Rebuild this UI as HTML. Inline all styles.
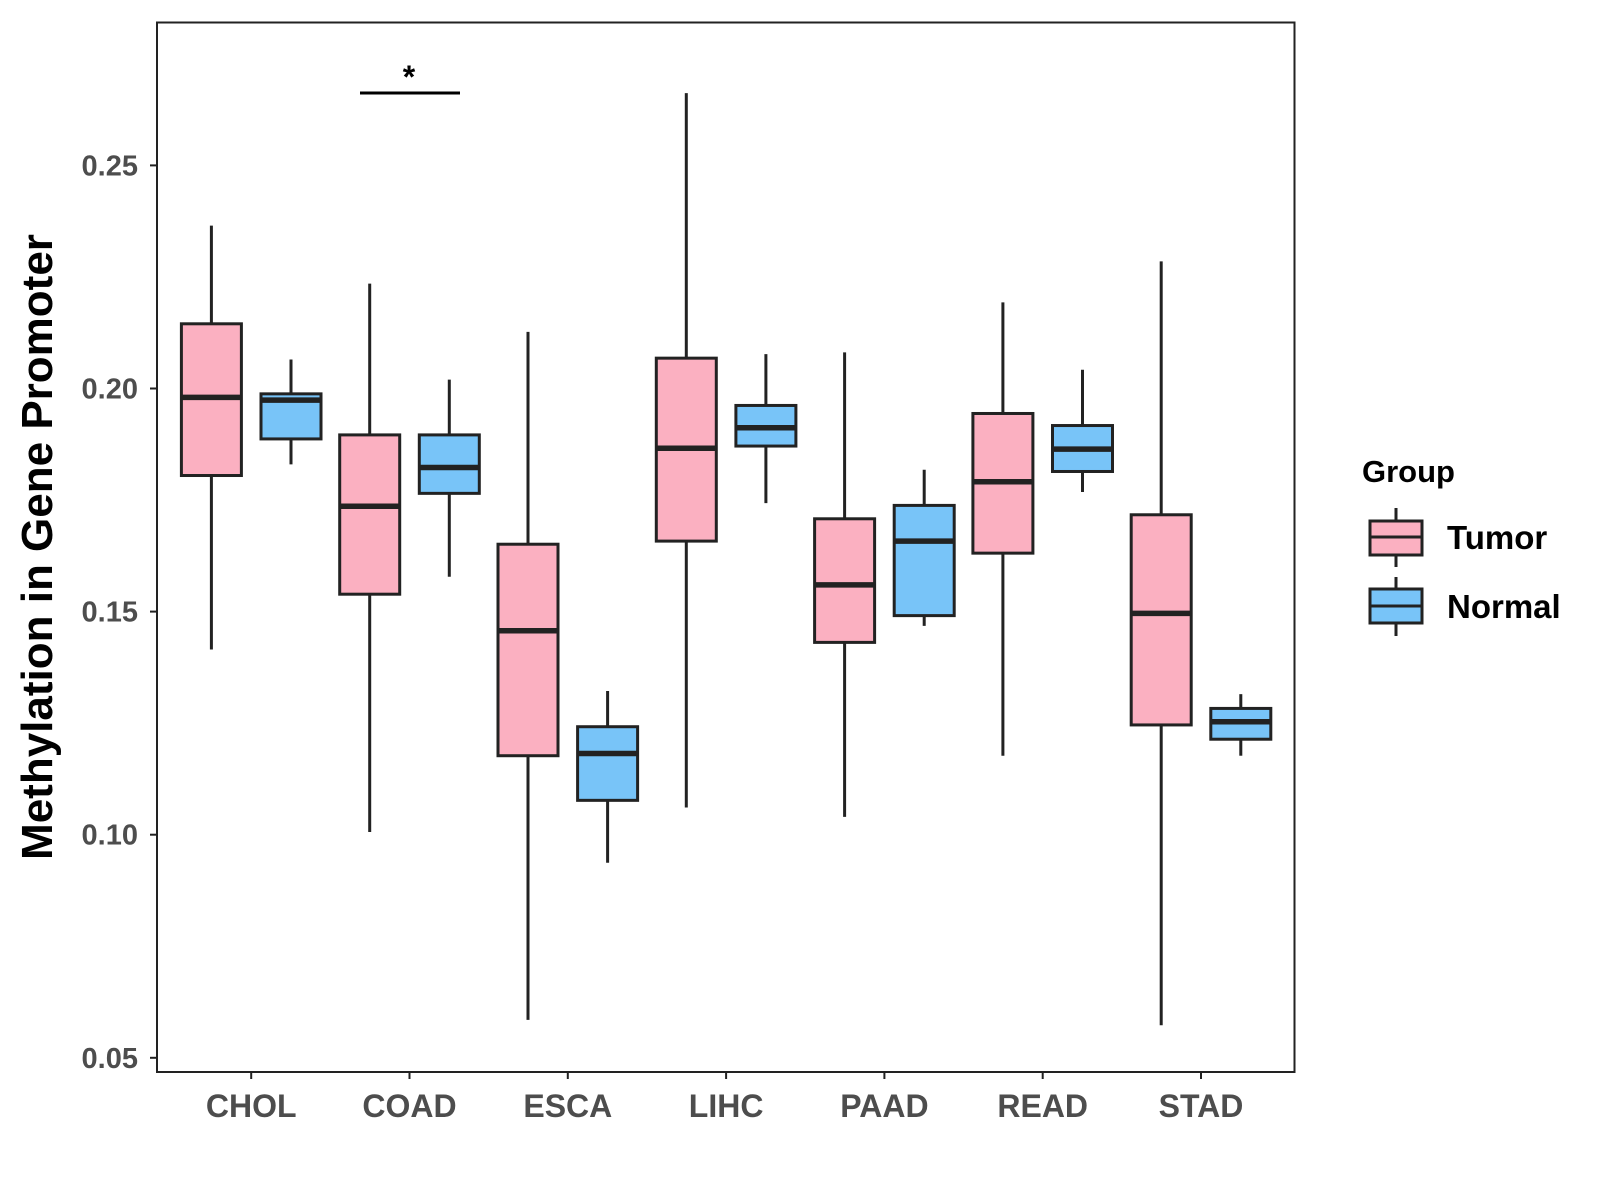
<!DOCTYPE html>
<html><head><meta charset="utf-8"><style>
html,body{margin:0;padding:0;background:#fff;}
svg{display:block;font-family:"Liberation Sans",Arial,sans-serif;}
</style></head><body>
<svg id="chart" width="1600" height="1200" viewBox="0 0 1600 1200">
<rect x="157" y="22.5" width="1137.5" height="1049.5" fill="#fff" stroke="#222" stroke-width="2"/>
<g id="marks"></g>
<g id="axes"></g>
<text x="52" y="547" transform="rotate(-90 52 547)" text-anchor="middle" font-size="44" font-weight="bold" fill="#000">Methylation in Gene Promoter</text>
<g>
<line x1="360" y1="93" x2="460" y2="93" stroke="#000" stroke-width="3"/>
<text x="409" y="88" text-anchor="middle" font-size="32" font-weight="bold">*</text>
</g>
<g>
<text x="1362" y="482" font-size="31" font-weight="bold">Group</text>
<g>
<line x1="1396" y1="508" x2="1396" y2="567" stroke="#222" stroke-width="3"/>
<rect x="1370" y="521" width="52" height="34" fill="#FBB0C1" stroke="#222" stroke-width="3"/>
<line x1="1370" y1="537" x2="1422" y2="537" stroke="#222" stroke-width="3"/>
<text x="1447" y="549" font-size="33" font-weight="bold">Tumor</text>
</g>
<g>
<line x1="1396" y1="577" x2="1396" y2="636" stroke="#222" stroke-width="3"/>
<rect x="1370" y="589" width="52" height="34" fill="#78C4F8" stroke="#222" stroke-width="3"/>
<line x1="1370" y1="606" x2="1422" y2="606" stroke="#222" stroke-width="3"/>
<text x="1447" y="618" font-size="33" font-weight="bold">Normal</text>
</g>
</g>
</svg>
<script>
const categories = ["CHOL","COAD","ESCA","LIHC","PAAD","READ","STAD"];
const groups = ["Tumor","Normal"];
const yTicks = [0.05,0.10,0.15,0.20,0.25];
const yTickLabels = ["0.05","0.10","0.15","0.20","0.25"];
// [low, q1, median, q3, high]
const tumorStats = [
 [0.1415,0.1805,0.198,0.2145,0.2365],
 [0.1006,0.1539,0.1736,0.1896,0.2235],
 [0.0585,0.1177,0.1457,0.1651,0.2127],
 [0.1061,0.1658,0.1866,0.2068,0.2662],
 [0.104,0.1431,0.156,0.1708,0.2081],
 [0.1177,0.1631,0.1791,0.1944,0.2193],
 [0.0573,0.1246,0.1496,0.1717,0.2285]
];
const normalStats = [
 [0.183,0.1887,0.1974,0.1988,0.2065],
 [0.1578,0.1765,0.1823,0.1896,0.202],
 [0.0937,0.1077,0.1182,0.1242,0.1322],
 [0.1743,0.1871,0.1912,0.1962,0.2077],
 [0.1468,0.1491,0.1658,0.1738,0.1818],
 [0.1768,0.1814,0.1864,0.1917,0.2042],
 [0.1177,0.1214,0.1253,0.1283,0.1315]
];
const NS="http://www.w3.org/2000/svg";
const y = v => 165.4 + (0.25 - v) * 4462;
const x = i => 251.2 + i * 158.3;
const colors = ["#FBB0C1","#78C4F8"];
const marks = document.getElementById('marks');
const axes = document.getElementById('axes');
function mk(tag, attrs, parent){const e=document.createElementNS(NS,tag);for(const k in attrs)e.setAttribute(k,attrs[k]);parent.appendChild(e);return e;}
[tumorStats, normalStats].forEach((series, g) => {
  series.forEach((s, i) => {
    const cx = x(i) + (g === 0 ? -39.8 : 39.8);
    const grp = mk('g', {}, marks);
    
    
    mk('line', {x1:cx, x2:cx, y1:y(s[4]), y2:y(s[0]), stroke:'#222', 'stroke-width':3}, grp);
    mk('rect', {x:cx-30, y:y(s[3]), width:60, height:y(s[1])-y(s[3]), fill:colors[g], stroke:'#222', 'stroke-width':3}, grp);
    mk('line', {x1:cx-30, x2:cx+30, y1:y(s[2]), y2:y(s[2]), stroke:'#222', 'stroke-width':5.5}, grp);
  });
});
yTicks.forEach((t, i) => {
  const l = mk('line', {x1:150, x2:157, y1:y(t), y2:y(t), stroke:'#222', 'stroke-width':2}, axes);
  
  
  const tx = mk('text', {x:138, y:y(t)+10, 'text-anchor':'end', 'font-size':29, 'font-weight':'bold', fill:'#4d4d4d'}, axes);
  tx.textContent = yTickLabels[i];
  
  
});
categories.forEach((c, i) => {
  const l = mk('line', {x1:x(i), x2:x(i), y1:1072, y2:1079, stroke:'#222', 'stroke-width':2}, axes);
  
  
  const tx = mk('text', {x:x(i), y:1117, 'text-anchor':'middle', 'font-size':32, 'font-weight':'bold', fill:'#4d4d4d'}, axes);
  tx.textContent = c;
  
  
});
</script>
</body></html>
